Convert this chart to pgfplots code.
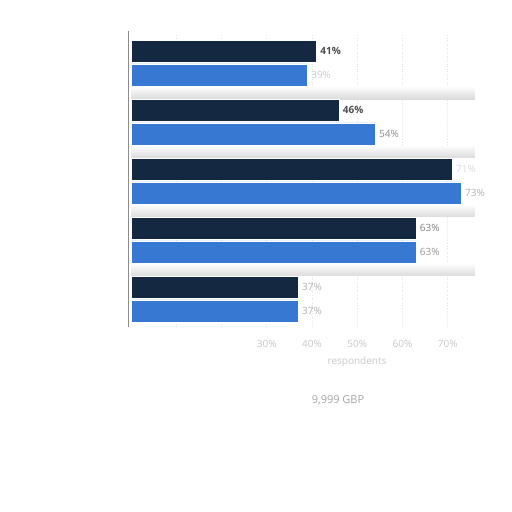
\documentclass[border=0pt]{standalone}
\usepackage{pgfplots}
\pgfplotsset{compat=1.18}
\usepackage{fontspec}
\setmainfont{Open Sans}
\definecolor{navy}{RGB}{20,40,66}
\definecolor{sky}{RGB}{55,120,210}
\definecolor{gridc}{RGB}{228,228,228}

\begin{document}
\begin{tikzpicture}
\path[use as bounding box] (0,0) rectangle (512pt,512pt);
\begin{axis}[
  at={(131pt,185pt)}, anchor=south west,
  scale only axis, width=362pt, height=292pt,
  xmin=0, xmax=80,
  ymin=-0.475, ymax=4.475,
  y dir=reverse,
  axis line style={draw=none},
  xtick={10,20,30,40,50,60,70},
  xticklabels={,,30\%,40\%,50\%,60\%,70\%},
  ytick=\empty,
  major tick length=0pt,
  xmajorgrids,
  major grid style={gridc, line width=0.6pt, dotted},
  xticklabel style={font=\fontsize{10}{12}\selectfont, text=black!22, yshift=-10pt},
  xbar, bar width=0.373,
  clip=false,
]
% gaps between groups
\shade[top color=white, bottom color=black!14] (axis cs:0,0.39) rectangle (axis cs:76,0.61);
\shade[top color=white, bottom color=black!14] (axis cs:0,1.39) rectangle (axis cs:76,1.61);
\shade[top color=white, bottom color=black!14] (axis cs:0,2.39) rectangle (axis cs:76,2.61);
\shade[top color=white, bottom color=black!14] (axis cs:0,3.39) rectangle (axis cs:76,3.61);

\addplot[fill=navy, draw=white, line width=0.4pt, bar shift=-0.203]
  coordinates {(41,0) (46,1) (71,2) (63,3) (37,4)};
\addplot[fill=sky, draw=white, line width=0.4pt, bar shift=0.203]
  coordinates {(39,0) (54,1) (73,2) (63,3) (37,4)};

\draw[black!45, line width=1pt] (axis cs:-0.5,-0.54) -- (axis cs:-0.5,4.475);

\begin{scope}[every node/.style={anchor=west, inner sep=0pt, font=\fontsize{10}{12}\selectfont}]
\node[text=black!70] at (axis cs:41.8,-0.203) {\textbf{41\%}};
\node[text=black!20] at (axis cs:39.8,0.203) {39\%};
\node[text=black!70] at (axis cs:46.8,0.797) {\textbf{46\%}};
\node[text=black!45] at (axis cs:54.8,1.203) {54\%};
\node[text=black!15] at (axis cs:71.8,1.797) {71\%};
\node[text=black!30] at (axis cs:73.8,2.203) {73\%};
\node[text=black!50] at (axis cs:63.8,2.797) {63\%};
\node[text=black!40] at (axis cs:63.8,3.203) {63\%};
\node[text=black!30] at (axis cs:37.8,3.797) {37\%};
\node[text=black!30] at (axis cs:37.8,4.203) {37\%};
\end{scope}
\end{axis}
\node[text=black!22, font=\fontsize{10}{12}\selectfont] at (357pt,150pt) {respondents};
\node[text=black!35, font=\fontsize{11}{13}\selectfont] at (338pt,112pt) {9,999 GBP};
\end{tikzpicture}
\end{document}
